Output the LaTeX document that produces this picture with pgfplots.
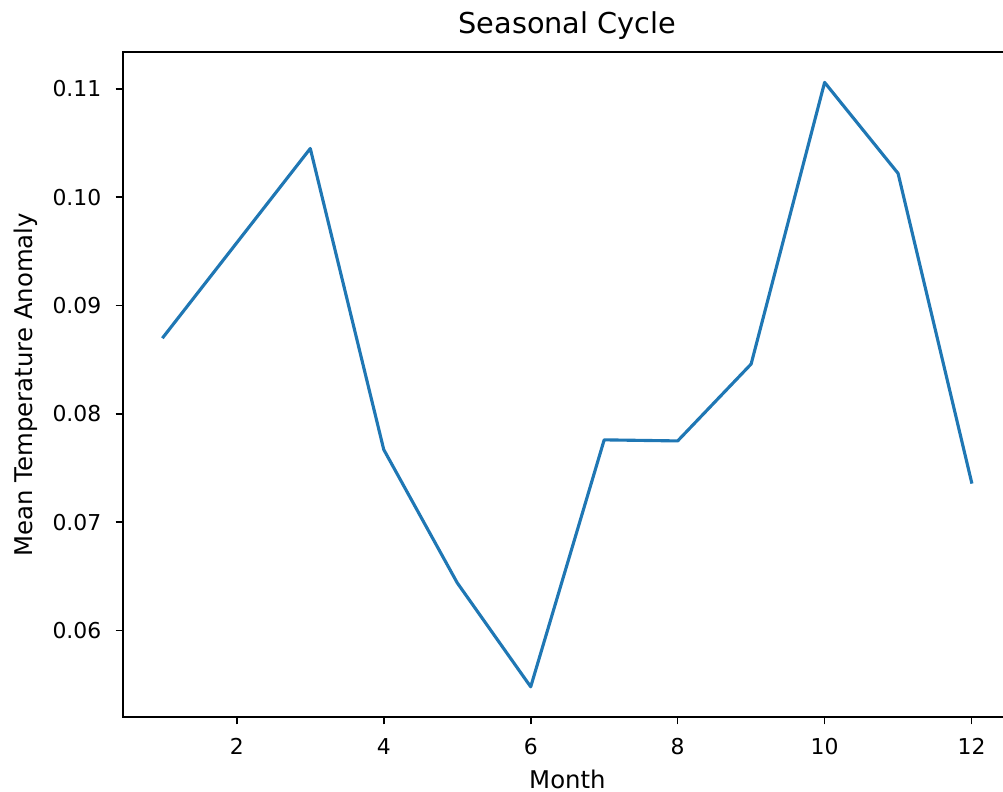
\documentclass[border=0pt]{standalone}
\usepackage{fontspec}
\setmainfont{DejaVu Sans}
\usepackage{pgfplots}
\pgfplotsset{compat=1.18}
\definecolor{mplblue}{HTML}{1F77B4}
\begin{document}
\fontsize{10}{12}\selectfont
\begin{tikzpicture}
\begin{axis}[
  scale only axis,
  width=426.7pt, height=319.2pt,
  xmin=0.45, xmax=12.55,
  ymin=0.0520, ymax=0.1134,
  xtick={2,4,6,8,10,12},
  ytick={0.06,0.07,0.08,0.09,0.10,0.11},
  scaled y ticks=false,
  yticklabel style={/pgf/number format/.cd, fixed, fixed zerofill, precision=2},
  /pgf/number format/assume math mode=true,
  tick align=outside,
  tick pos=left,
  major tick length=3.5pt,
  every tick/.style={black, line width=0.8pt},
  axis line style={black, line width=0.8pt},
  every tick label/.append style={inner sep=0pt, font=\fontsize{10.5}{12.6}\selectfont},
  xticklabel shift=6.5pt,
  yticklabel shift=6.7pt,
  every axis title shift=0pt,
  title={Seasonal Cycle},
  title style={at={(axis description cs:0.5,1.0285)}, anchor=base, inner sep=0pt, font=\fontsize{13.8}{16}\selectfont},
  xlabel={Month},
  xlabel style={at={(axis description cs:0.5,-0.1068)}, anchor=base, inner sep=0pt, font=\fontsize{11.7}{14}\selectfont},
  ylabel={Mean Temperature Anomaly},
  ylabel style={at={(axis description cs:-0.1012,0.5)}, anchor=base, inner sep=0pt, font=\fontsize{11.7}{14}\selectfont},
]
\addplot[mplblue, line width=1.5pt, line join=round, line cap=rect] coordinates {
  (1,0.0871) (2,0.0958) (3,0.1045) (4,0.0767) (5,0.0644) (6,0.0548)
  (7,0.0776) (8,0.0775) (9,0.0846) (10,0.1106) (11,0.1022) (12,0.0737)
};
\coordinate (SW) at (rel axis cs:0,0);
\coordinate (NE) at (rel axis cs:1,1);
\end{axis}
\pgfresetboundingbox
\path[use as bounding box] ([xshift=-59pt,yshift=-35.5pt]SW) rectangle ([xshift=-4.3pt,yshift=25pt]NE);
\end{tikzpicture}
\end{document}
